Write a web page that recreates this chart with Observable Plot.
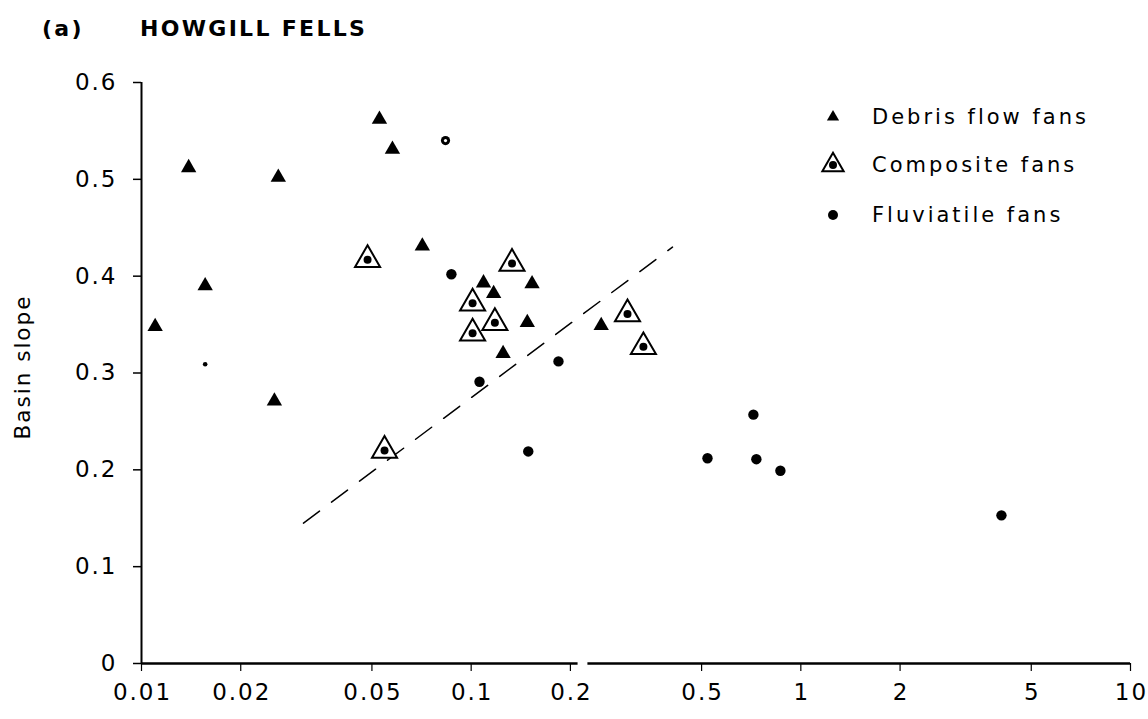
<!DOCTYPE html>
<html><head><meta charset="utf-8">
<script src="https://cdn.jsdelivr.net/npm/d3@7"></script>
<script src="https://cdn.jsdelivr.net/npm/@observablehq/plot@0.6"></script>
<style>
html,body{margin:0;padding:0;background:#fff;}
#wrap{position:relative;width:1148px;height:719px;overflow:hidden;font-family:"DejaVu Sans",sans-serif;color:#000;}
#title{position:relative;height:50px;font-weight:bold;font-size:22px;letter-spacing:2.3px;}
#title span{position:absolute;top:16px;white-space:nowrap;}
#legend{position:absolute;left:0;top:0;}
.row{position:absolute;height:30px;line-height:30px;font-size:21px;letter-spacing:3px;white-space:nowrap;}
.row svg{position:absolute;left:0;top:0;}
.row span{position:absolute;left:59px;top:0;}
</style>
</head><body>
<div id="wrap">
  <div id="title"><span style="left:42px">(a)</span><span style="left:140px">HOWGILL FELLS</span></div>
  <div id="chart"></div>
  <div id="legend"></div>
</div>
<script>
// ---- data ----
const xTicks = [0.01, 0.02, 0.05, 0.1, 0.2, 0.5, 1, 2, 5, 10];
const xTickLabels = ["0.01", "0.02", "0.05", "0.1", "0.2", "0.5", "1", "2", "5", "10"];
const yTicks = [0, 0.1, 0.2, 0.3, 0.4, 0.5, 0.6];

// Debris flow fans (filled triangles)
const debrisX = [0.0110, 0.0139, 0.0156, 0.0260, 0.0253, 0.0527, 0.0577, 0.0711, 0.109, 0.117, 0.153, 0.148, 0.125, 0.248];
const debrisY = [0.348, 0.512, 0.390, 0.502, 0.271, 0.562, 0.531, 0.431, 0.393, 0.382, 0.392, 0.352, 0.320, 0.349];

// Composite fans (open triangle with dot)
const compositeX = [0.0485, 0.0546, 0.133, 0.101, 0.118, 0.101, 0.298, 0.333];
const compositeY = [0.417, 0.220, 0.413, 0.372, 0.352, 0.341, 0.361, 0.327];

// Fluviatile fans (filled circles)
const fluvX = [0.0871, 0.106, 0.184, 0.149, 0.521, 0.718, 0.733, 0.867, 4.06];
const fluvY = [0.402, 0.291, 0.312, 0.219, 0.212, 0.257, 0.211, 0.199, 0.153];
// odd fluviatile marks: a tiny dot and a ringed dot
const fluvSmallX = [0.0156];
const fluvSmallY = [0.309];
const fluvRingX = [0.0836];
const fluvRingY = [0.540];

// dashed dividing line end points
const divideX = [0.031, 0.408];
const divideY = [0.145, 0.430];

// broken x-axis line segments
const axisSegStart = [0.01, 0.226];
const axisSegEnd = [0.211, 10];

const legendItems = ["Debris flow fans", "Composite fans", "Fluviatile fans"];
const yLabel = "Basin slope";

// ---- build tables ----
const zip = (xs, ys) => xs.map((x, i) => ({x, y: ys[i]}));
const debris = zip(debrisX, debrisY);
const composite = zip(compositeX, compositeY);
const fluv = zip(fluvX, fluvY);
const fluvSmall = zip(fluvSmallX, fluvSmallY);
const fluvRing = zip(fluvRingX, fluvRingY);
const divide = zip(divideX, divideY);
const axisSegs = axisSegStart.map((s, i) => ({x1: s, x2: axisSegEnd[i]}));
const xLabels = xTicks.map((v, i) => ({x: v, label: xTickLabels[i]}));

const chart = Plot.plot({
  width: 1148,
  height: 669,
  marginLeft: 141,
  marginRight: 18,
  marginTop: 32,
  marginBottom: 56,
  style: {fontFamily: "DejaVu Sans", fontSize: "23px", letterSpacing: "2px", color: "#000", background: "#fff"},
  x: {type: "log", domain: [0.01, 10], axis: null},
  y: {domain: [0, 0.6], axis: null},
  marks: [
    Plot.ruleX([0.01], {y1: 0, y2: 0.6, stroke: "#000", strokeWidth: 2}),
    Plot.ruleY(axisSegs, {x1: "x1", x2: "x2", y: () => 0, stroke: "#000", strokeWidth: 2.5}),
    Plot.axisY({ticks: yTicks, tickSize: 8, tickPadding: 16, tickFormat: d => String(d), label: null, strokeWidth: 1.5, fontSize: 23}),
    Plot.axisX({ticks: xTicks, tickSize: 8, tickFormat: () => "", label: null, strokeWidth: 1.2}),
    Plot.text(xLabels, {x: "x", frameAnchor: "bottom", text: "label", dy: 29, dx: 1, lineAnchor: "middle", fontSize: 23}),
    Plot.text([yLabel], {frameAnchor: "left", textAnchor: "middle", text: d => d, rotate: -90, dx: -118, dy: -6, fontSize: 21.5, letterSpacing: 4}),
    Plot.line(divide, {x: "x", y: "y", stroke: "#000", strokeWidth: 1.5, strokeDasharray: "20,15"}),
    Plot.dot(debris, {x: "x", y: "y", symbol: "triangle", r: 5.7, fill: "#000", stroke: "none"}),
    Plot.dot(composite, {x: "x", y: "y", symbol: "triangle", r: 9.3, fill: "#fff", stroke: "#000", strokeWidth: 2}),
    Plot.dot(composite, {x: "x", y: "y", r: 4, fill: "#000", stroke: "none"}),
    Plot.dot(fluv, {x: "x", y: "y", r: 5.2, fill: "#000", stroke: "none"}),
    Plot.dot(fluvSmall, {x: "x", y: "y", r: 2.3, fill: "#000", stroke: "none"}),
    Plot.dot(fluvRing, {x: "x", y: "y", r: 4.6, fill: "#000", stroke: "none"}),
    Plot.dot(fluvRing, {x: "x", y: "y", r: 1.6, fill: "#fff", stroke: "none"})
  ]
});
document.getElementById("chart").appendChild(chart);

// ---- legend (HTML overlay, top right) ----
const legend = document.getElementById("legend");
const rowTops = [102, 150, 200];
const symSvg = [
  '<svg width="40" height="30"><path d="M0,-7L6.1,3.5L-6.1,3.5Z" transform="translate(20,15)" fill="#000"/></svg>',
  '<svg width="40" height="30"><path d="M0,-12.3L10.65,6.15L-10.65,6.15Z" transform="translate(20,15)" fill="#fff" stroke="#000" stroke-width="2"/><circle cx="20" cy="15" r="4" fill="#000"/></svg>',
  '<svg width="40" height="30"><circle cx="20" cy="15" r="5" fill="#000"/></svg>'
];
legendItems.forEach((t, i) => {
  const row = document.createElement("div");
  row.className = "row";
  row.style.left = "813px";
  row.style.top = rowTops[i] + "px";
  row.innerHTML = symSvg[i] + "<span></span>";
  row.querySelector("span").textContent = t;
  legend.appendChild(row);
});
</script>
</body></html>
